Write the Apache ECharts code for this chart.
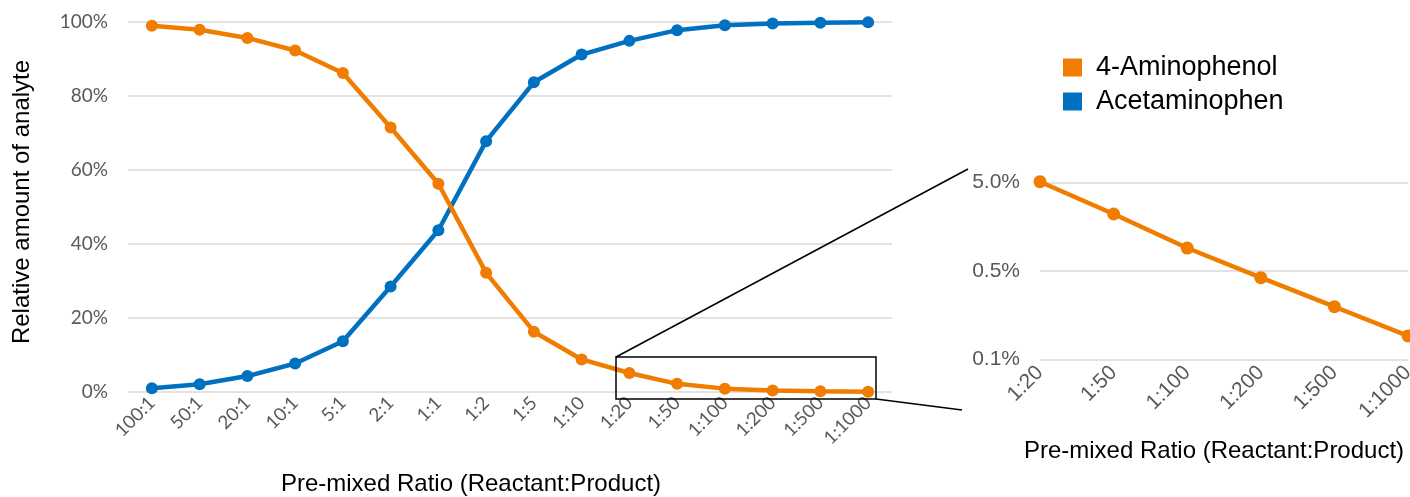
<!DOCTYPE html>
<html>
<head>
<meta charset="utf-8">
<script src="https://cdn.jsdelivr.net/npm/echarts@6/dist/echarts.min.js"></script>
<style>
html,body{margin:0;padding:0;background:#fff;}
#chart{width:1410px;height:497px;}
</style>
</head>
<body>
<div id="chart"></div>
<script>
const categories = ['100:1','50:1','20:1','10:1','5:1','2:1','1:1','1:2','1:5','1:10','1:20','1:50','1:100','1:200','1:500','1:1000'];
const aminophenol = [99.0, 97.9, 95.7, 92.3, 86.2, 71.5, 56.3, 32.2, 16.3, 8.8, 5.13, 2.21, 0.91, 0.42, 0.197, 0.092];
const acetaminophen = [1.0, 2.1, 4.3, 7.7, 13.7, 28.5, 43.7, 67.8, 83.7, 91.2, 94.9, 97.8, 99.1, 99.6, 99.8, 99.9];
const insetCategories = ['1:20','1:50','1:100','1:200','1:500','1:1000'];
const insetAminophenol = [5.13, 2.21, 0.91, 0.42, 0.197, 0.092];
const mainYTicks = [0, 20, 40, 60, 80, 100];
const insetYTicks = [0.05, 0.5, 5];

const ORANGE = '#F07C00';
const BLUE = '#0070C0';
const GRAY = '#595959';
const SANS = 'Liberation Sans, Arial, sans-serif';

const chart = echarts.init(document.getElementById('chart'));
const option = {
  animation: false,
  backgroundColor: '#fff',
  legend: {
    orient: 'vertical',
    left: 1058,
    top: 49,
    icon: 'rect',
    itemWidth: 19,
    itemHeight: 18,
    itemGap: 7,
    data: ['4-Aminophenol', 'Acetaminophen'],
    textStyle: {fontFamily: SANS, fontSize: 27, color: '#000', padding: [0,0,0,9]}
  },
  grid: [
    {left: 128, top: 22, width: 764, height: 370, outerBoundsMode: 'none', containLabel: false},
    {left: 1040, top: 182.7, width: 368, height: 176.6, outerBoundsMode: 'none', containLabel: false}
  ],
  xAxis: [
    {
      type: 'category', gridIndex: 0, data: categories, boundaryGap: true,
      axisLine: {show: false}, axisTick: {show: false},
      axisLabel: {rotate: 45, color: GRAY, fontFamily: 'Lato, sans-serif', fontSize: 18.5, margin: 8, interval: 0},
      name: 'Pre-mixed Ratio (Reactant:Product)', nameLocation: 'middle', nameGap: 80,
      nameTextStyle: {fontFamily: SANS, fontSize: 24, color: '#000', padding: [0, 78, 0, 0]}
    },
    {
      type: 'category', gridIndex: 1, data: insetCategories, boundaryGap: false,
      axisLine: {show: false}, axisTick: {show: false},
      axisLabel: {rotate: 45, color: GRAY, fontFamily: SANS, fontSize: 21, margin: 10, interval: 0},
      name: 'Pre-mixed Ratio (Reactant:Product)', nameLocation: 'middle', nameGap: 80,
      nameTextStyle: {fontFamily: SANS, fontSize: 24, color: '#000', padding: [0, 20, 0, 0]}
    }
  ],
  yAxis: [
    {
      type: 'value', gridIndex: 0, min: 0, max: 100, interval: 20,
      axisLine: {show: false}, axisTick: {show: false},
      splitLine: {lineStyle: {color: '#D9D9D9', width: 1.5}},
      axisLabel: {color: GRAY, fontFamily: 'Lato, sans-serif', fontSize: 19, margin: 20, formatter: v => v + '%'},
      name: 'Relative amount of analyte', nameLocation: 'middle', nameGap: 94,
      nameTextStyle: {fontFamily: SANS, fontSize: 24, color: '#000', padding: [0, 0, 0, 10]}
    },
    {
      type: 'log', gridIndex: 1, logBase: 10, min: 0.05, max: 5,
      axisLine: {show: false},
      axisTick: {show: false, customValues: insetYTicks},
      splitLine: {show: true, lineStyle: {color: '#D9D9D9', width: 1.5}},
      axisLabel: {color: GRAY, fontFamily: SANS, fontSize: 21, margin: 20,
        customValues: insetYTicks,
        formatter: v => (Math.round(v * 100) / 100).toFixed(1) + '%'}
    }
  ],
  series: [
    {
      name: '4-Aminophenol', type: 'line', xAxisIndex: 0, yAxisIndex: 0, data: aminophenol,
      color: ORANGE, symbol: 'circle', symbolSize: 12, lineStyle: {width: 4.5, color: ORANGE},
      itemStyle: {color: ORANGE}, z: 3
    },
    {
      name: 'Acetaminophen', type: 'line', xAxisIndex: 0, yAxisIndex: 0, data: acetaminophen,
      color: BLUE, symbol: 'circle', symbolSize: 12, lineStyle: {width: 4.5, color: BLUE},
      itemStyle: {color: BLUE}, z: 2
    },
    {
      name: '4-Aminophenol', type: 'line', xAxisIndex: 1, yAxisIndex: 1, data: insetAminophenol,
      color: ORANGE, symbol: 'circle', symbolSize: 13, lineStyle: {width: 4.5, color: ORANGE},
      itemStyle: {color: ORANGE}, clip: false
    }
  ],
  graphic: [
    {type: 'rect', shape: {x: 616, y: 357, width: 260, height: 42}, style: {fill: 'none', stroke: '#000', lineWidth: 1.5}, z: 10},
    {type: 'line', shape: {x1: 616, y1: 357, x2: 968, y2: 169}, style: {stroke: '#000', lineWidth: 1.5}, z: 10},
    {type: 'line', shape: {x1: 876, y1: 399, x2: 962, y2: 410}, style: {stroke: '#000', lineWidth: 1.5}, z: 10}
  ]
};
chart.setOption(option);
</script>
</body>
</html>
